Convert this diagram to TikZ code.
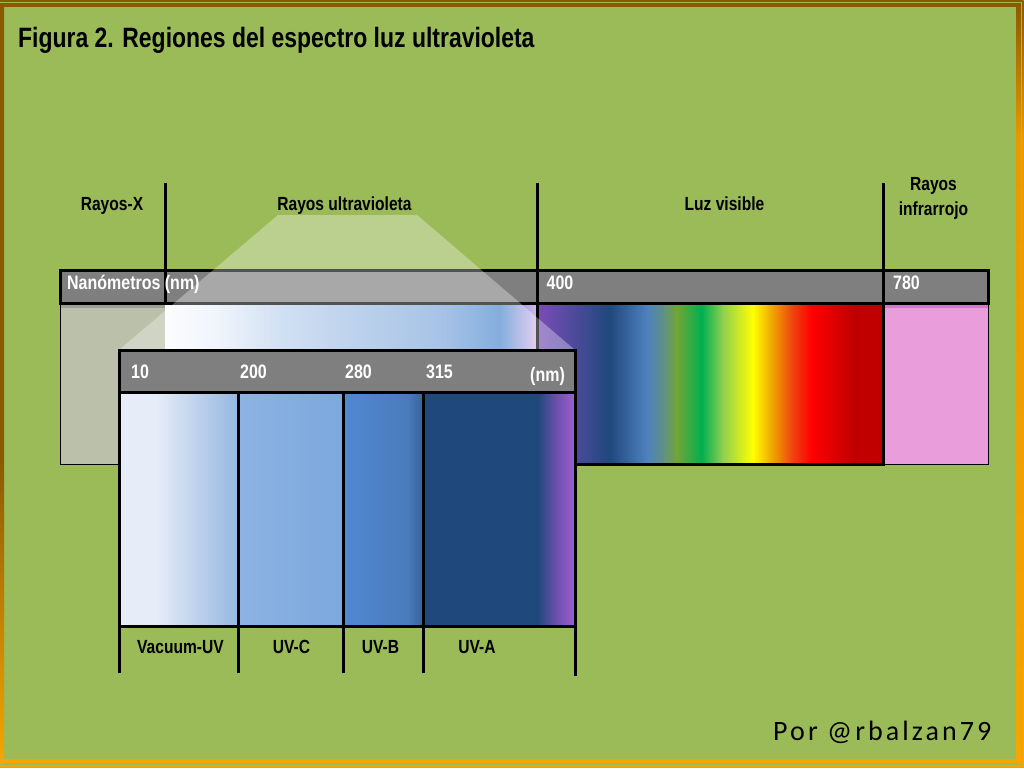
\documentclass[tikz,border=0pt]{standalone}
\usepackage{fontspec}
\setmainfont{Liberation Sans}
\newfontfamily\nar{Liberation Sans}[FakeStretch=0.82]
\newfontfamily\sig{Carlito}[LetterSpace=11]
\definecolor{bggreen}{HTML}{9BBB59}
\definecolor{framebrown}{HTML}{8B5A00}
\definecolor{frameorange}{HTML}{F7A600}
\definecolor{bargray}{HTML}{7F7F7F}
\definecolor{xraygray}{HTML}{BAC0AA}
\definecolor{xraystrip}{HTML}{9C9F96}
\definecolor{irpink}{HTML}{EA9DDB}
\definecolor{irstrip}{HTML}{D07ACB}
% visible spectrum colours
\definecolor{vA}{HTML}{7B4CB8}\definecolor{vB}{HTML}{1F497D}\definecolor{vC}{HTML}{4F81BD}
\definecolor{vD}{HTML}{5E8E8E}\definecolor{vE}{HTML}{72A535}\definecolor{vF}{HTML}{00B050}
\definecolor{vG}{HTML}{92D050}\definecolor{vH}{HTML}{FFFF00}\definecolor{vI}{HTML}{F0A000}
\definecolor{vJ}{HTML}{F04010}\definecolor{vK}{HTML}{FF0000}\definecolor{vL}{HTML}{C00000}
% uv colours
\definecolor{uA}{HTML}{FAFCFF}\definecolor{uB}{HTML}{EBF1FA}\definecolor{uC}{HTML}{BCD3EF}
\definecolor{uD}{HTML}{A8C4E7}\definecolor{uE}{HTML}{7CA6DB}\definecolor{uF}{HTML}{4A88CE}
\definecolor{uG}{HTML}{D8B8EC}
% inner segments
\definecolor{sA}{HTML}{E6EDF8}\definecolor{sB}{HTML}{C5D6EE}\definecolor{sC}{HTML}{95B7E1}
\definecolor{sD}{HTML}{8DB3E2}\definecolor{sE}{HTML}{7BA8DE}
\definecolor{sF}{HTML}{5089D2}\definecolor{sG}{HTML}{4A7CBC}\definecolor{sH}{HTML}{36639D}
\definecolor{sI}{HTML}{1F497D}\definecolor{sJ}{HTML}{6A4FA8}\definecolor{sK}{HTML}{9E5FD3}
\pgfdeclarehorizontalshading{visspec}{100bp}{color(0bp)=(vA); color(25bp)=(vA);
  color(35.5bp)=(vB); color(40.9bp)=(vC); color(43bp)=(vD); color(45.2bp)=(vE);
  color(48.8bp)=(vF); color(51.9bp)=(vG); color(56.2bp)=(vH); color(59.1bp)=(vI);
  color(62bp)=(vJ); color(64.7bp)=(vK); color(70.7bp)=(vL); color(75bp)=(vL); color(100bp)=(vL)}
\pgfdeclarehorizontalshading{uvspec}{100bp}{color(0bp)=(uA); color(25bp)=(uA);
  color(31.7bp)=(uB); color(40.5bp)=(uC); color(47.2bp)=(uD); color(62.6bp)=(uE);
  color(70bp)=(uF); color(75bp)=(uG); color(100bp)=(uG)}
\pgfdeclarehorizontalshading{segone}{100bp}{color(0bp)=(sA); color(25bp)=(sA);
  color(40bp)=(sA); color(55bp)=(sB); color(75bp)=(sC); color(100bp)=(sC)}
\pgfdeclarehorizontalshading{segthree}{100bp}{color(0bp)=(sF); color(25bp)=(sF);
  color(65bp)=(sG); color(75bp)=(sH); color(100bp)=(sH)}
\pgfdeclarehorizontalshading{segfour}{100bp}{color(0bp)=(sI); color(25bp)=(sI);
  color(62.8bp)=(sI); color(68.5bp)=(sJ); color(75bp)=(sK); color(100bp)=(sK)}
% frame side shadings (vertical: colour changes top to bottom; 100bp = top)
\pgfdeclareverticalshading{leftside}{100bp}{color(0bp)=(frameorange); color(25bp)=(frameorange);
  color(33bp)=(frameorange!60!framebrown); color(45bp)=(framebrown); color(100bp)=(framebrown)}
\pgfdeclareverticalshading{rightside}{100bp}{color(0bp)=(frameorange); color(25bp)=(frameorange);
  color(66bp)=(frameorange!85!framebrown); color(75bp)=(framebrown); color(100bp)=(framebrown)}
\tikzset{
  lbl/.style={font=\nar\bfseries\fontsize{19}{21}\selectfont, inner sep=0pt, anchor=base},
  wl/.style={lbl, font=\nar\bfseries\fontsize{19.5}{21}\selectfont, text=white, anchor=base west},
  blk/.style={line width=3pt, black},
  thin/.style={line width=1pt, black},
}
\begin{document}
\begin{tikzpicture}[x=1pt,y=-1pt]
\useasboundingbox (0,0) rectangle (1024,768);
% background
\fill[bggreen] (0,0) rectangle (1024,768);
% frame: thin outer line
\fill[framebrown] (0,0.4) rectangle (1023.3,1.7);
\fill[frameorange] (0,765.3) rectangle (1023.3,766.7);
\path[shading=rightside] (1022,0.4) rectangle (1023.3,766.7);
% frame: thick band
\path[shading=leftside] (0,3.3) rectangle (4,763.3);
\path[shading=rightside] (1016.7,3.3) rectangle (1020.7,763.3);
\fill[framebrown] (0,3.3) rectangle (1020.7,7.3);
\fill[frameorange] (0,759.3) rectangle (1020.7,763.3);
% title
\node[anchor=base west, inner sep=0pt, font=\nar\bfseries\fontsize{28}{32}\selectfont] (title) at (18,47.7)
  {Figura 2. Regiones del espectro luz ultravioleta};
% top labels
\node[lbl] (rx) at (112,210.5) {Rayos-X};
\node[lbl] (ruv) at (344.5,210.5) {Rayos ultravioleta};
\node[lbl] (lv) at (724.5,210.5) {Luz visible};
\node[lbl] (rir1) at (933.5,190.5) {Rayos};
\node[lbl] (rir2) at (933.5,215) {infrarrojo};
% spectrum boxes
\fill[xraygray] (60,303) rectangle (165,464);
\fill[xraystrip] (60,303) rectangle (165,307.5);
\draw[thin] (60,303) rectangle (165,464);
\path[shading=uvspec] (165,303) rectangle (537,464);
\fill[irpink] (883,303) rectangle (988,464);
\fill[irstrip] (883,303) rectangle (988,308);
\draw[thin] (883,303) rectangle (988,464);
\path[shading=visspec] (537,303) rectangle (883,464);
\draw[blk] (537,303) rectangle (883,464);
% bar
\fill[bargray] (60,270) rectangle (988,303);
\draw[blk] (60,270) rectangle (988,303);
% dividers
\draw[blk] (165,183) -- (165,303);
\draw[blk] (537,183) -- (537,303);
\draw[blk] (883,183) -- (883,303);
\node[wl] (nano) at (67,289.3) {Nanómetros (nm)};
\node[wl] (n400) at (546.5,289.3) {400};
\node[wl] (n780) at (893,289.3) {780};
% translucent zoom overlay
\fill[white, opacity=0.32] (278,215) -- (417,215) -- (575,350) -- (119,350) -- cycle;
% inner box
\fill[bargray] (119,350) rectangle (575,392);
\path[shading=segone] (119,392) rectangle (238,626);
\path[left color=sD, right color=sE] (238,392) rectangle (343,626);
\path[shading=segthree] (343,392) rectangle (423,626);
\path[shading=segfour] (423,392) rectangle (575,626);
\draw[blk] (119,350) rectangle (575,392);
\draw[blk] (119,626) -- (575,626);
\draw[blk] (119,392) -- (119,673);
\draw[blk] (238,392) -- (238,673);
\draw[blk] (343,392) -- (343,673);
\draw[blk] (423,392) -- (423,673);
\draw[blk] (575,392) -- (575,676);
\node[wl] (i10) at (131,378.7) {10};
\node[wl] (i200) at (240,378.7) {200};
\node[wl] (i280) at (345,378.7) {280};
\node[wl] (i315) at (426,378.7) {315};
\node[wl] (inm) at (530,381.5) {(nm)};
\node[lbl] (vuv) at (180.5,653) {Vacuum-UV};
\node[lbl] (uvc) at (291.5,653) {UV-C};
\node[lbl] (uvb) at (380.5,653) {UV-B};
\node[lbl] (uva) at (477,653) {UV-A};
% signature
\node[anchor=base west, inner sep=0pt, font=\sig\fontsize{28}{30}\selectfont] (sig) at (773,740) {Por @rbalzan79};
\end{tikzpicture}
\end{document}
